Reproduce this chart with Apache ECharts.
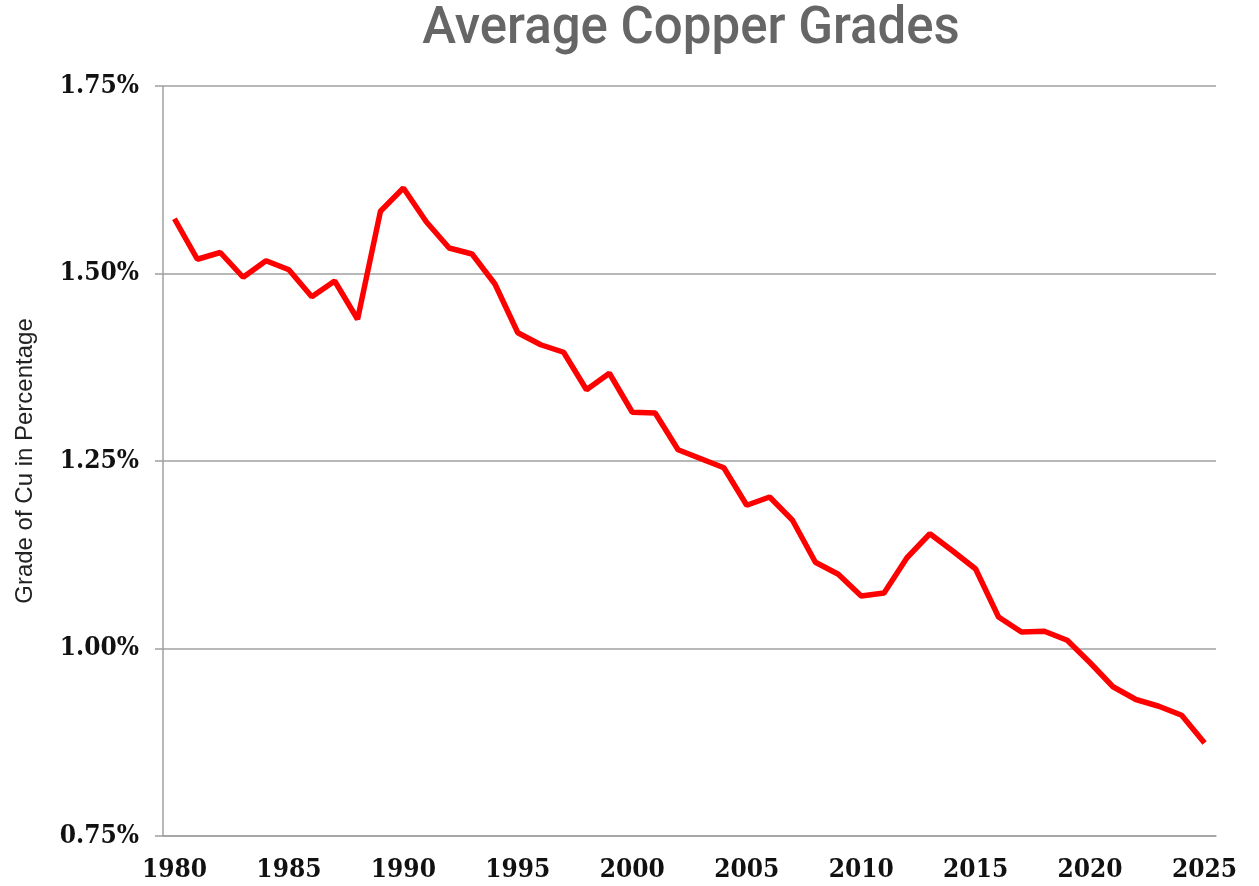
<!DOCTYPE html>
<html>
<head>
<meta charset="utf-8">
<title>Average Copper Grades</title>
<script src="https://cdn.jsdelivr.net/npm/echarts@6/dist/echarts.min.js"></script>
<style>
  html, body { margin: 0; padding: 0; background: #fff; }
  #chart { width: 1259px; height: 886px; }
</style>
</head>
<body>
<div id="chart"></div>
<script>
// years on the x axis
const years = [];
for (let y = 1980; y <= 2025; y++) years.push(String(y));

// average copper grade, percent Cu
const grades = [
  1.573, 1.519, 1.528, 1.495, 1.517, 1.505, 1.469, 1.490, 1.439, 1.583,
  1.614, 1.569, 1.534, 1.526, 1.486, 1.421, 1.405, 1.395, 1.345, 1.367,
  1.315, 1.314, 1.265, 1.253, 1.241, 1.191, 1.202, 1.171, 1.115, 1.099,
  1.070, 1.074, 1.121, 1.153, 1.130, 1.106, 1.042, 1.022, 1.023, 1.011,
  0.981, 0.949, 0.932, 0.923, 0.911, 0.874
];

const yTicks = [0.75, 1.00, 1.25, 1.50, 1.75];

const labelFont = "'DejaVu Serif Condensed', 'DejaVu Serif', serif";
const gridGray = '#a0a0a0';

const chart = echarts.init(document.getElementById('chart'));

chart.setOption({
  animation: false,
  backgroundColor: '#ffffff',
  title: {
    text: 'Average Copper Grades',
    left: 686,
    top: 0,
    textAlign: 'center',
    textStyle: {
      fontFamily: 'Roboto',
      fontWeight: 500,
      fontSize: 51,
      color: '#666666'
    }
  },
  grid: { left: 163, right: 43, top: 86, bottom: 50 },
  xAxis: {
    type: 'category',
    data: years,
    boundaryGap: true,
    axisLine: { lineStyle: { color: gridGray, width: 1.5 } },
    axisTick: { interval: 0, length: 8, lineStyle: { color: gridGray, width: 1.5 } },
    axisLabel: {
      interval: 4,
      margin: 21,
      fontFamily: labelFont,
      fontWeight: 'bold',
      fontSize: 26,
      color: '#111111'
    },
    splitLine: { show: false }
  },
  yAxis: {
    type: 'value',
    min: yTicks[0],
    max: yTicks[yTicks.length - 1],
    interval: 0.25,
    name: 'Grade of Cu in Percentage',
    nameLocation: 'middle',
    nameGap: 126,
    nameTextStyle: {
      fontFamily: "'Liberation Sans', Arial, sans-serif",
      fontSize: 24,
      color: '#222222'
    },
    axisLine: { show: true, lineStyle: { color: gridGray, width: 1.5 } },
    axisTick: { show: true, length: 8, lineStyle: { color: gridGray, width: 1.5 } },
    axisLabel: {
      margin: 24,
      fontFamily: labelFont,
      fontWeight: 'bold',
      fontSize: 26,
      color: '#111111',
      formatter: v => v.toFixed(2) + '%'
    },
    splitLine: { lineStyle: { color: gridGray, width: 1.5 } }
  },
  series: [{
    type: 'line',
    data: grades,
    symbol: 'none',
    smooth: false,
    lineStyle: { color: '#ff0000', width: 5.5 },
    itemStyle: { color: '#ff0000' }
  }]
});
</script>
</body>
</html>
